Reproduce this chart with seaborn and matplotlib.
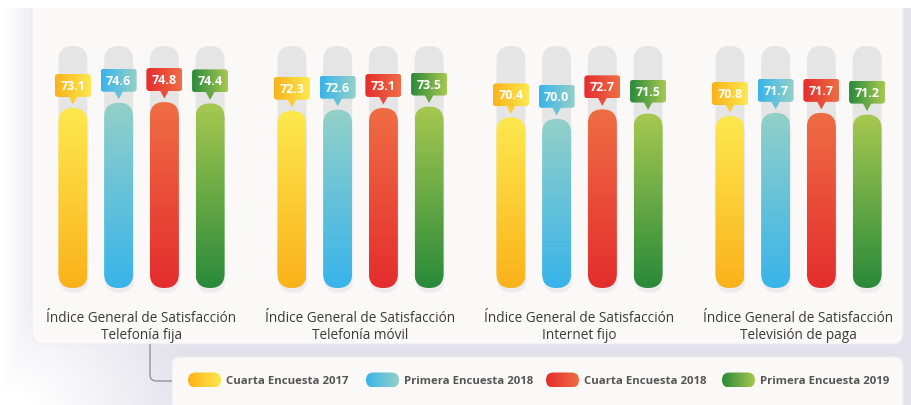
import numpy as np
import pandas as pd
import matplotlib
matplotlib.use("Agg")
import matplotlib.pyplot as plt
import matplotlib.transforms as mtransforms
from matplotlib.patches import FancyBboxPatch, Polygon, BoxStyle, PathPatch
from matplotlib.path import Path
from matplotlib.colors import to_rgb
import seaborn as sns

# ---------------- data ----------------
categorias = [
    "Índice General de Satisfacción\nTelefonía fija",
    "Índice General de Satisfacción\nTelefonía móvil",
    "Índice General de Satisfacción\nInternet fijo",
    "Índice General de Satisfacción\nTelevisión de paga",
]
series = ["Cuarta Encuesta 2017", "Primera Encuesta 2018",
          "Cuarta Encuesta 2018", "Primera Encuesta 2019"]
cuarta_2017 = [73.1, 72.3, 70.4, 70.8]
primera_2018 = [74.6, 72.6, 70.0, 71.7]
cuarta_2018 = [74.8, 73.1, 72.7, 71.7]
primera_2019 = [74.4, 73.5, 71.5, 71.2]

# (dark, light) colours per series
colores = [("#fbb21a", "#fde84e"),
           ("#38b4ea", "#93d0c8"),
           ("#e42d2e", "#ef6d43"),
           ("#2a8a3a", "#a6c850")]

df = pd.DataFrame({
    "indice": categorias * 4,
    "serie": [s for s in series for _ in categorias],
    "valor": cuarta_2017 + primera_2018 + cuarta_2018 + primera_2019,
})

# ---------------- layout constants ----------------
W, H = 912, 406
PXX = 219.0          # px per category unit
PXY = 3.5            # px per value unit
X0PX = 141.5         # px of first category centre
XMIN, XMAX = -X0PX / PXX, (W - X0PX) / PXX
YMAX = 104.23        # value at top of figure
YMIN = YMAX - H / PXY
BASE = YMAX - 289 / PXY
TUBE_TOP = YMAX - 47 / PXY
MA = (1 / PXY) / (1 / PXX)

FONT = "Open Sans"


def grad_v(c_top, c_bot, n=64):
    a, b = np.array(to_rgb(c_top)), np.array(to_rgb(c_bot))
    t = np.linspace(0, 1, n)[:, None]
    return (a * (1 - t) + b * t)[:, None, :]


def grad_h(c_left, c_right, n=64):
    a, b = np.array(to_rgb(c_left)), np.array(to_rgb(c_right))
    t = np.linspace(0, 1, n)[:, None]
    return (a * (1 - t) + b * t)[None, :, :]


fig = plt.figure(figsize=(W / 100, H / 100), dpi=100)

# ---------------- background (pixel axes) ----------------
bg = fig.add_axes([0, 0, 1, 1])
bg.set_xlim(0, W)
bg.set_ylim(H, 0)
bg.axis("off")

yy, xx = np.mgrid[0:H, 0:W]
lav = np.array(to_rgb("#e3e1eb"))
t1 = np.clip((xx - 4) / 45.0, 0, 1)
r = np.hypot(xx - 0, yy - 430)
t2 = np.clip((r - 40) / 160.0, 0, 1)
t = np.minimum(t1, t2)
t[yy < 9] = 0
img = np.ones((H, W, 3)) * (1 - t[..., None]) + lav * t[..., None]
bg.imshow(img, extent=[0, W, H, 0], aspect="auto", zorder=0, interpolation="bilinear")

panel = FancyBboxPatch((32, -10), 871, 355, boxstyle=BoxStyle.Round(pad=0, rounding_size=10),
                       fc="#fbf9f8", ec="#eeecf1", lw=0.8, zorder=1)
bg.add_patch(panel)
legbox = FancyBboxPatch((172, 358), 731, 70, boxstyle=BoxStyle.Round(pad=0, rounding_size=8),
                        fc="#fbf9f8", ec="#eeecf1", lw=0.8, zorder=1)
bg.add_patch(legbox)
bg.add_patch(plt.Rectangle((0, 0), W, 9, fc="white", ec="none", zorder=2))

br = Path([(150, 345), (150, 376), (150, 382), (157, 382), (172, 382)],
          [Path.MOVETO, Path.LINETO, Path.CURVE3, Path.CURVE3, Path.LINETO])
bg.add_patch(PathPatch(br, fc="none", ec="#918fa0", lw=1.0, zorder=1))

# legend
leg_x = [188, 366, 546, 722]
for i, s in enumerate(series):
    x0 = leg_x[i]
    pill = FancyBboxPatch((x0, 373.5), 33, 15, boxstyle=BoxStyle.Round(pad=0, rounding_size=7.5),
                          fc="none", ec="none", zorder=3)
    bg.add_patch(pill)
    im = bg.imshow(grad_h(colores[i][0], colores[i][1]), extent=[x0, x0 + 33, 388.5, 373.5],
                   aspect="auto", zorder=3, interpolation="bilinear")
    im.set_clip_path(pill)
    bg.text(x0 + 38, 381.5, s, ha="left", va="center", fontsize=8.2, fontweight="bold",
            color="#555555", family=FONT, zorder=3)

bg.set_xlim(0, W)
bg.set_ylim(H, 0)

# ---------------- bars (data axes) ----------------
ax = fig.add_axes([0, 0, 1, 1])
ax.patch.set_alpha(0)
sns.barplot(data=df, x="indice", y="valor", hue="serie", order=categorias, hue_order=series,
            palette=[c[0] for c in colores], width=0.835, gap=0.366, legend=False,
            errorbar=None, ax=ax)

bw, bh = 36 / PXX, 23 / PXY
gap_b, tri_h, tri_w = 11 / PXY, 7.5 / PXY, 4.5 / PXX

for si, cont in enumerate(ax.containers):
    dark, light = colores[si]
    for gi, bar in enumerate(cont):
        x0, w, v = bar.get_x(), bar.get_width(), bar.get_height()
        bar.set_visible(False)
        xc = x0 + w / 2
        rs = BoxStyle.Round(pad=0, rounding_size=w / 2)
        # soft shadow
        sh = FancyBboxPatch((x0 + 1 / PXX, BASE - 5 / PXY), w, v - BASE, boxstyle=rs, mutation_aspect=MA,
                            fc="#b9b6c4", ec="none", alpha=0.18, zorder=1.5)
        ax.add_patch(sh)
        tube = FancyBboxPatch((x0, BASE), w, TUBE_TOP - BASE, boxstyle=rs, mutation_aspect=MA,
                              fc="#e6e5e5", ec="none", zorder=1)
        ax.add_patch(tube)
        p = FancyBboxPatch((x0, BASE), w, v - BASE, boxstyle=rs, mutation_aspect=MA,
                           fc="none", ec="none", zorder=2)
        ax.add_patch(p)
        im = ax.imshow(grad_v(light, dark), extent=[x0, x0 + w, BASE, v], aspect="auto",
                       zorder=2, interpolation="bilinear")
        im.set_clip_path(p)

        # callout
        yb = v + gap_b
        box = FancyBboxPatch((xc - bw / 2, yb), bw, bh,
                             boxstyle=BoxStyle.Round(pad=0, rounding_size=3 / PXX),
                             mutation_aspect=MA, fc="none", ec="none", zorder=4)
        ax.add_patch(box)
        mid = tuple((np.array(to_rgb(dark)) + np.array(to_rgb(light))) / 2)
        ax.add_patch(Polygon([[xc - tri_w, yb + 0.2], [xc + tri_w, yb + 0.2], [xc, yb - tri_h]],
                             closed=True, fc=mid, ec="none", zorder=4))
        im2 = ax.imshow(grad_h(dark, light), extent=[xc - bw / 2, xc + bw / 2, yb, yb + bh],
                        aspect="auto", zorder=4, interpolation="bilinear")
        im2.set_clip_path(box)
        ax.text(xc, yb + bh / 2, f"{v:.1f}", ha="center", va="center", color="white",
                fontsize=9, fontweight="bold", family=FONT, zorder=5)

ax.set_xlim(XMIN, XMAX)
ax.set_ylim(YMIN, YMAX)
ax.axis("off")

trans = mtransforms.blended_transform_factory(ax.transData, bg.transData)
for gi, c in enumerate(categorias):
    ax.text(gi, 327, c, transform=trans, ha="center", va="center", fontsize=9.8,
            color="#3a3a3a", family=FONT, linespacing=1.25, zorder=5)

fig.savefig("out.png", dpi=100)
